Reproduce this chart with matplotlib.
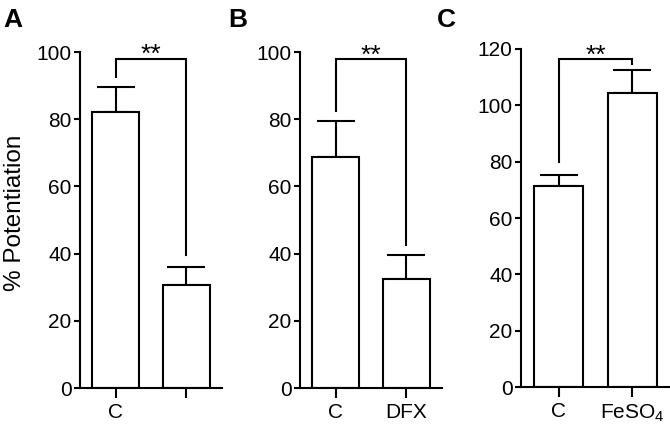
import matplotlib
matplotlib.use("Agg")
import matplotlib.pyplot as plt

plt.rcParams['font.family'] = ['Liberation Sans', 'DejaVu Sans']
plt.rcParams['mathtext.default'] = 'regular'

# panel A
a_labels = ['C', '']
a_means = [82.0, 30.6]
a_err = [7.6, 5.4]
a_bracket = [98.0, 92.5, 39.6]   # top, left leg end, right leg end

# panel B
b_labels = ['C', 'DFX']
b_means = [68.7, 32.3]
b_err = [10.8, 7.3]
b_bracket = [97.8, 82.4, 42.5]

# panel C
c_labels = ['C', 'FeSO$_4$']
c_means = [71.2, 104.5]
c_err = [4.1, 7.9]
c_bracket = [116.3, 79.8, 114.5]

fig = plt.figure(figsize=(6.7, 4.4), dpi=100)

panels = [
    ('A', [80/670, 52/440, 142/670, 336/440], a_labels, a_means, a_err, a_bracket, 100, 20),
    ('B', [300/670, 52/440, 142/670, 336/440], b_labels, b_means, b_err, b_bracket, 100, 20),
    ('C', [521/670, 53/440, 149/670, 338/440], c_labels, c_means, c_err, c_bracket, 120, 20),
]

lw = 1.5
for letter, rect, labels, means, err, br, ymax, step in panels:
    ax = fig.add_axes(rect)
    x = [0, 1]
    ax.bar(x, means, width=0.67, color='white', edgecolor='black', linewidth=lw, zorder=2)
    ax.errorbar(x, means, yerr=[[0, 0], err], fmt='none', ecolor='black',
                elinewidth=lw, capsize=13.5, capthick=lw, zorder=1)
    # significance bracket
    ax.plot([0, 0, 1, 1], [br[1], br[0], br[0], br[2]], color='black', lw=lw,
            solid_joinstyle='miter', clip_on=False)
    ax.annotate('**', xy=(0.5, br[0]), xytext=(0, -2.5), textcoords='offset points',
                ha='center', va='baseline', fontsize=19, annotation_clip=False)
    ax.set_xlim(-0.51, 1.51)
    ax.set_ylim(0, ymax)
    ax.set_yticks(range(0, ymax + 1, step))
    ax.set_xticks(x)
    ax.set_xticklabels(labels)
    for s in ['top', 'right']:
        ax.spines[s].set_visible(False)
    for s in ['left', 'bottom']:
        ax.spines[s].set_linewidth(lw)
    ax.tick_params(axis='y', length=4, width=lw, pad=2, labelsize=15, colors='black')
    ax.tick_params(axis='x', length=7, width=lw, pad=4, labelsize=15)
    ax.patch.set_visible(False)
    if letter == 'A':
        ax.set_ylabel('% Potentiation', fontsize=17.5)
        ax.yaxis.set_label_coords(-0.38, 0.522)

fig.text(3/670, 1 - 27/440, 'A', fontsize=19, fontweight='bold', va='baseline')
fig.text(228/670, 1 - 27/440, 'B', fontsize=19, fontweight='bold', va='baseline')
fig.text(437/670, 1 - 27/440, 'C', fontsize=19, fontweight='bold', va='baseline')

fig.savefig('out.png', dpi=100)
